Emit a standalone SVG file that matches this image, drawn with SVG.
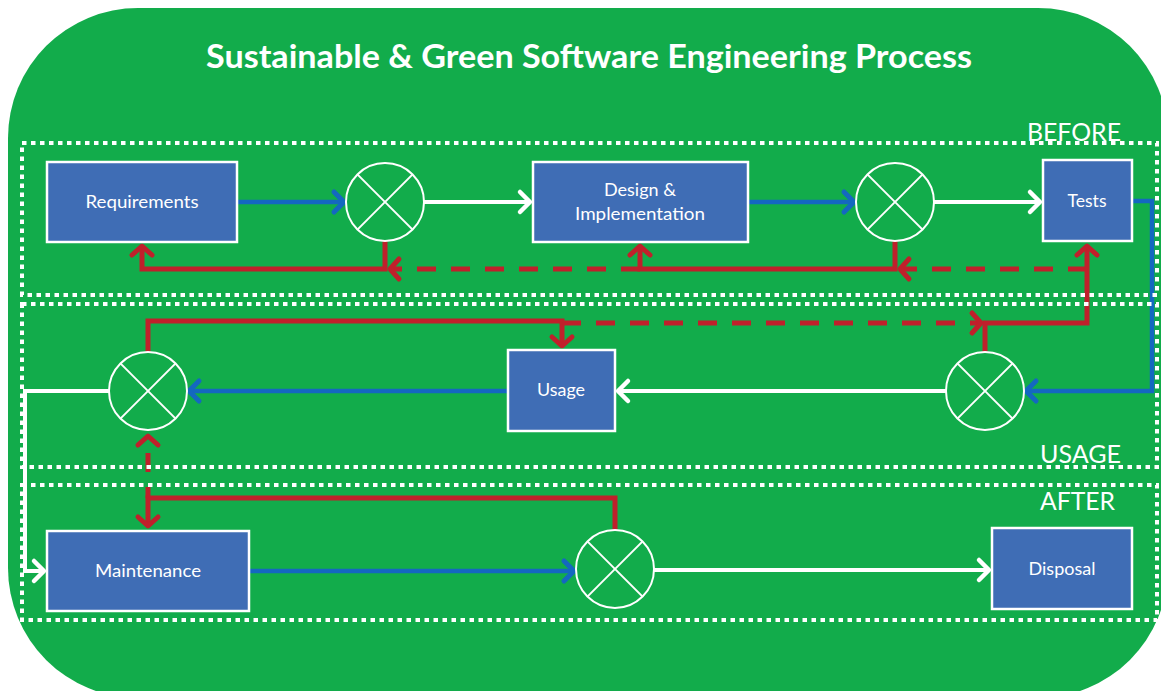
<svg xmlns="http://www.w3.org/2000/svg" width="1161" height="691" viewBox="0 0 1161 691">
<style>
.node rect{fill:#3F6DB5;stroke:#FFFFFF;stroke-width:2.5}
.lbl{font-family:Lato,"Liberation Sans",sans-serif;font-size:18px;fill:#FFFFFF;text-anchor:middle}
.sec{font-family:Lato,"Liberation Sans",sans-serif;font-size:25px;fill:#FFFFFF;text-anchor:end}
.mix circle{fill:none;stroke:#FFFFFF;stroke-width:2}
.mix line{stroke:#FFFFFF;stroke-width:2}
.b{fill:none;stroke:#1468C0;stroke-width:4.5;marker-end:url(#ab)}
.w{fill:none;stroke:#FFFFFF;stroke-width:4;marker-end:url(#aw)}
.r{fill:none;stroke:#C0202B;stroke-width:5;marker-end:url(#ar)}
.rd{stroke-dasharray:19 15}
.dot{fill:none;stroke:#FFFFFF;stroke-width:4;stroke-dasharray:4.5 4.5}
</style>
<defs>
<marker id="ab" markerUnits="userSpaceOnUse" viewBox="-15 -15 30 30" markerWidth="30" markerHeight="30" refX="0" refY="0" orient="auto"><path d="M-10,-10 L0,0 L-10,10" fill="none" stroke="#1468C0" stroke-width="5" stroke-linecap="round" stroke-linejoin="round"/></marker>
<marker id="aw" markerUnits="userSpaceOnUse" viewBox="-15 -15 30 30" markerWidth="30" markerHeight="30" refX="0" refY="0" orient="auto"><path d="M-10,-10 L0,0 L-10,10" fill="none" stroke="#FFFFFF" stroke-width="4.5" stroke-linecap="round" stroke-linejoin="round"/></marker>
<marker id="ar" markerUnits="userSpaceOnUse" viewBox="-15 -15 30 30" markerWidth="30" markerHeight="30" refX="0" refY="0" orient="auto"><path d="M-9,-10 L0,0 L-9,10" fill="none" stroke="#C0202B" stroke-width="5" stroke-linecap="round" stroke-linejoin="round"/></marker>
</defs>
<rect x="0" y="0" width="1161" height="691" fill="#FFFFFF"/>
<rect x="8" y="8" width="1160" height="690" rx="130" ry="130" fill="#12AC4B"/>
<text x="589" y="68" font-family="Lato,'Liberation Sans',sans-serif" font-size="33" font-weight="bold" fill="#FFFFFF" text-anchor="middle" textLength="766" lengthAdjust="spacingAndGlyphs">Sustainable &amp; Green Software Engineering Process</text>

<g id="connectors">
<path class="b" d="M237,202 H344"/>
<path class="b" d="M748,202 H854"/>
<path class="b" d="M1132,201 H1152 V391 H1026"/>
<path class="b" d="M508,391 H189"/>
<path class="b" d="M249,571 H574"/>
<path class="w" d="M423,202 H530"/>
<path class="w" d="M933,202 H1040"/>
<path class="w" d="M947,391 H618"/>
<path class="w" d="M110,391 H25 V571 H44"/>
<path class="w" d="M653,570 H989"/>
<path class="r" d="M385,241 V269 H142 V246"/>
<path class="r" d="M895,240 V269 H640 V246"/>
<path class="r" d="M985,352 V323 H1087 V246"/>
<path class="r" d="M148,352 V321 H562 V346"/>
<path class="r" d="M615,530 V498 H148 V526"/>
<path class="r rd" d="M640,269 H390"/>
<path class="r rd" d="M1087,269 H900"/>
<path class="r rd" d="M562,323 H981"/>
<path class="r rd" d="M148,498 V436" stroke-dashoffset="8"/>
</g>

<g id="sections">
<rect class="dot" x="22" y="143" width="1135" height="152"/>
<rect class="dot" x="22" y="304" width="1135" height="163"/>
<rect class="dot" x="22" y="485" width="1135" height="135"/>
<text class="sec" x="1121" y="141" textLength="94" lengthAdjust="spacingAndGlyphs">BEFORE</text>
<text class="sec" x="1121" y="463" textLength="81" lengthAdjust="spacingAndGlyphs">USAGE</text>
<text class="sec" x="1115" y="510" textLength="75" lengthAdjust="spacingAndGlyphs">AFTER</text>
</g>

<g id="requirements" class="node"><rect x="47" y="162" width="190" height="80"/><text class="lbl" x="142" y="208" textLength="113" lengthAdjust="spacingAndGlyphs">Requirements</text></g>
<g id="design" class="node"><rect x="533" y="162" width="215" height="80"/><text class="lbl" x="640" y="196" textLength="72" lengthAdjust="spacingAndGlyphs">Design &amp;</text><text class="lbl" x="640" y="220" textLength="130" lengthAdjust="spacingAndGlyphs">Implementation</text></g>
<g id="tests" class="node"><rect x="1043" y="160" width="89" height="81"/><text class="lbl" x="1087" y="207" textLength="39" lengthAdjust="spacingAndGlyphs">Tests</text></g>
<g id="usage" class="node"><rect x="508" y="350" width="107" height="81"/><text class="lbl" x="561" y="396" textLength="48" lengthAdjust="spacingAndGlyphs">Usage</text></g>
<g id="maintenance" class="node"><rect x="47" y="531" width="202" height="80"/><text class="lbl" x="148" y="577" textLength="106" lengthAdjust="spacingAndGlyphs">Maintenance</text></g>
<g id="disposal" class="node"><rect x="992" y="528" width="140" height="81"/><text class="lbl" x="1062" y="575" textLength="67" lengthAdjust="spacingAndGlyphs">Disposal</text></g>

<g id="mix1" class="mix"><circle cx="385" cy="202" r="39"/><line x1="357.4" y1="174.4" x2="412.6" y2="229.6"/><line x1="412.6" y1="174.4" x2="357.4" y2="229.6"/></g>
<g id="mix2" class="mix"><circle cx="895" cy="202" r="39"/><line x1="867.4" y1="174.4" x2="922.6" y2="229.6"/><line x1="922.6" y1="174.4" x2="867.4" y2="229.6"/></g>
<g id="mix3" class="mix"><circle cx="985" cy="391" r="39"/><line x1="957.4" y1="363.4" x2="1012.6" y2="418.6"/><line x1="1012.6" y1="363.4" x2="957.4" y2="418.6"/></g>
<g id="mix4" class="mix"><circle cx="148" cy="391" r="39"/><line x1="120.4" y1="363.4" x2="175.6" y2="418.6"/><line x1="175.6" y1="363.4" x2="120.4" y2="418.6"/></g>
<g id="mix5" class="mix"><circle cx="615" cy="569" r="39"/><line x1="587.4" y1="541.4" x2="642.6" y2="596.6"/><line x1="642.6" y1="541.4" x2="587.4" y2="596.6"/></g>
</svg>
